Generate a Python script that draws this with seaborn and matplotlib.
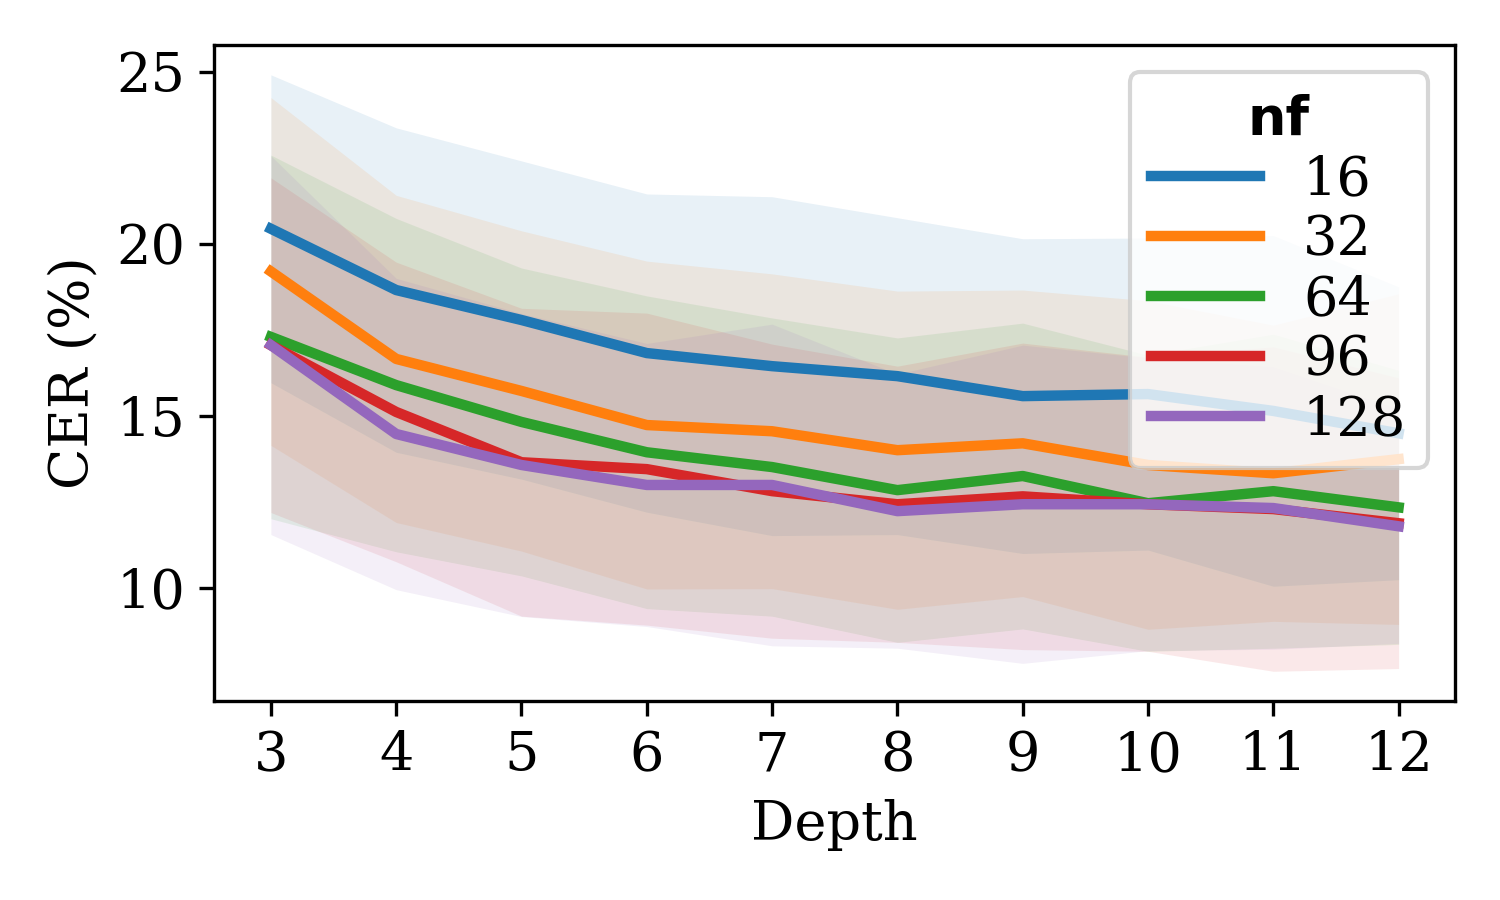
import matplotlib as mpl
mpl.use('Agg')
import matplotlib.pyplot as plt
import seaborn as sns
import pandas as pd

# Depth on the x axis, one curve per number of filters (nf)
DEPTHS = [3, 4, 5, 6, 7, 8, 9, 10, 11, 12]
NF_LABELS = ["16", "32", "64", "96", "128"]

# mean CER (%) per depth
CER_16 = [20.44, 18.66, 17.79, 16.83, 16.45, 16.16, 15.58, 15.64, 15.15, 14.50]
CER_32 = [19.20, 16.66, 15.73, 14.74, 14.56, 14.01, 14.21, 13.58, 13.34, 13.75]
CER_64 = [17.30, 15.90, 14.83, 13.95, 13.52, 12.85, 13.26, 12.47, 12.82, 12.35]
CER_96 = [17.06, 15.12, 13.66, 13.46, 12.82, 12.44, 12.67, 12.44, 12.30, 11.89]
CER_128 = [17.06, 14.48, 13.58, 13.00, 13.00, 12.24, 12.44, 12.44, 12.33, 11.80]

# half width of the shaded band (std) per depth
STD_16 = [4.47, 4.71, 4.62, 4.62, 4.92, 4.60, 4.57, 4.53, 5.09, 4.25]
STD_32 = [5.05, 4.75, 4.65, 4.76, 4.57, 4.62, 4.45, 4.77, 4.30, 4.80]
STD_64 = [5.28, 4.84, 4.47, 4.54, 4.33, 4.42, 4.44, 4.30, 4.56, 3.98]
STD_96 = [4.86, 4.35, 4.47, 4.53, 4.27, 4.01, 4.45, 4.27, 4.71, 4.22]
STD_128 = [5.50, 4.52, 4.40, 4.11, 4.67, 3.98, 4.62, 4.25, 4.10, 3.40]


def set_rc_params():
    mpl.rcParams.update(mpl.rcParamsDefault)
    mpl.rcParams['font.family'] = 'serif'
    mpl.rcParams['font.serif'] = ['DejaVu Serif']
    mpl.rcParams['xtick.labelsize'] = 13
    mpl.rcParams['ytick.labelsize'] = 13
    mpl.rcParams['axes.labelsize'] = 13
    mpl.rcParams['legend.fontsize'] = 13


set_rc_params()

means = [CER_16, CER_32, CER_64, CER_96, CER_128]
stds = [STD_16, STD_32, STD_64, STD_96, STD_128]

# two rows per point (mean -/+ std) so seaborn's mean and min/max
# interval give back the line and the band
rows = []
for nf, mean, std in zip(NF_LABELS, means, stds):
    for depth, m, s in zip(DEPTHS, mean, std):
        rows.append({"Depth": depth, "CER": m - s, "nf": nf})
        rows.append({"Depth": depth, "CER": m + s, "nf": nf})
df = pd.DataFrame(rows)

fig = plt.figure(figsize=(5, 3), dpi=300)
ax = fig.add_subplot(1, 1, 1)

sns.lineplot(data=df, x="Depth", y="CER", hue="nf", hue_order=NF_LABELS,
             palette="tab10", estimator="mean", errorbar=("pi", 100),
             err_kws={"alpha": 0.1, "linewidth": 0}, linewidth=2.5, ax=ax)

ax.set_xticks(DEPTHS)
ax.set_yticks([10, 15, 20, 25])
ax.set_xlabel("Depth")
ax.set_ylabel("CER (%)")

handles, labels = ax.get_legend_handles_labels()
leg = ax.legend(handles, labels, title="nf", loc="upper right",
                labelspacing=0.15, handlelength=2.0, handletextpad=0.8,
                title_fontproperties={'family': 'DejaVu Sans',
                                      'weight': 'bold', 'size': 13})
for line in leg.get_lines():
    line.set_linewidth(2.5)

fig.subplots_adjust(left=0.143, right=0.97, top=0.95, bottom=0.221)
plt.savefig("out.png", dpi=300)
